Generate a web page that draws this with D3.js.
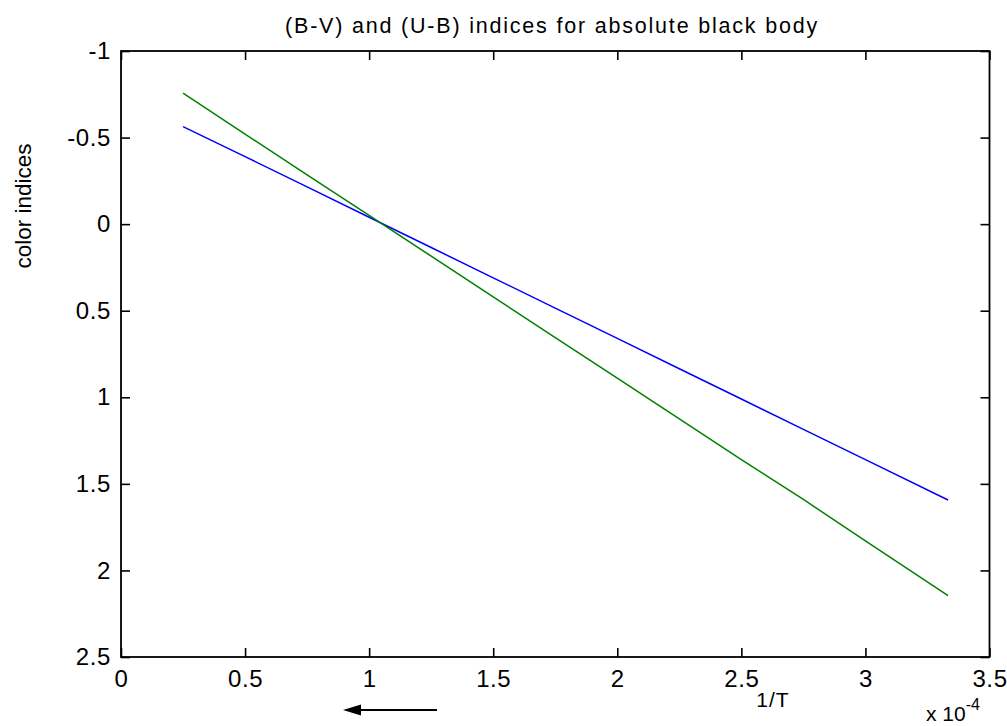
<!DOCTYPE html>
<html><head><meta charset="utf-8">
<script src="https://cdn.jsdelivr.net/npm/d3@7"></script>
<style>
html,body{margin:0;padding:0;background:#fff;}
svg{display:block;font-family:"Liberation Sans",Arial,sans-serif;}
</style></head>
<body>
<svg id="c" width="1007" height="726"></svg>
<script>
// 1/T in units of 1e-4 K^-1
const invT = [0.25, 0.5, 0.75, 1.0, 1.25, 1.5, 1.75, 2.0, 2.25, 2.5, 2.75, 3.0, 3.333];
// (B-V) index (blue)
const bvIndex = [-0.563, -0.39, -0.215, -0.04, 0.135, 0.31, 0.485, 0.66, 0.835, 1.01, 1.185, 1.36, 1.593];
// (U-B) index (green)
const ubIndex = [-0.756, -0.52, -0.285, -0.05, 0.185, 0.42, 0.655, 0.89, 1.125, 1.36, 1.59, 1.83, 2.145];
const xTicks = [0, 0.5, 1, 1.5, 2, 2.5, 3, 3.5];
const yTicks = [-1, -0.5, 0, 0.5, 1, 1.5, 2, 2.5];
const titleText = "(B-V) and (U-B) indices for absolute black body";
const yLabel = "color indices";
const xLabel = "1/T";

const svg = d3.select("#c");
const L = 121, R = 989.5, T = 51, B = 657;
const x = d3.scaleLinear().domain([0, 3.5]).range([L, R]);
const y = d3.scaleLinear().domain([-1, 2.5]).range([T, B]);
const fmt = d => String(d);
const tickFont = "24px";

function styleAxis(g){
  g.select(".domain").remove();
  g.selectAll(".tick line").attr("stroke","#000").attr("stroke-width",1.6);
  g.selectAll(".tick text").attr("fill","#000").style("font-size",tickFont).style("letter-spacing","0.6px").style("font-family","'Liberation Sans',Arial,sans-serif");
}

// bottom axis
svg.append("g").attr("transform",`translate(0,${B})`)
  .call(d3.axisBottom(x).tickValues(xTicks).tickFormat(fmt).tickSizeInner(-9).tickSizeOuter(0).tickPadding(13))
  .call(styleAxis)
  .call(g=>g.selectAll(".tick text").attr("dy","0.71em"));
// top axis (ticks only)
svg.append("g").attr("transform",`translate(0,${T})`)
  .call(d3.axisTop(x).tickValues(xTicks).tickFormat("").tickSizeInner(-9).tickSizeOuter(0))
  .call(styleAxis);
// left axis
svg.append("g").attr("transform",`translate(${L},0)`)
  .call(d3.axisLeft(y).tickValues(yTicks).tickFormat(fmt).tickSizeInner(-9).tickSizeOuter(0).tickPadding(10))
  .call(styleAxis);
// right axis (ticks only)
svg.append("g").attr("transform",`translate(${R},0)`)
  .call(d3.axisRight(y).tickValues(yTicks).tickFormat("").tickSizeInner(-9).tickSizeOuter(0))
  .call(styleAxis);

// frame
svg.append("rect").attr("x",L).attr("y",T).attr("width",R-L).attr("height",B-T)
  .attr("fill","none").attr("stroke","#000").attr("stroke-width",1.8);

// data lines
const line = d3.line().x(d=>x(d[0])).y(d=>y(d[1]));
svg.append("path").datum(invT.map((v,i)=>[v,bvIndex[i]]))
  .attr("d",line).attr("fill","none").attr("stroke","#0000ff").attr("stroke-width",1.5);
svg.append("path").datum(invT.map((v,i)=>[v,ubIndex[i]]))
  .attr("d",line).attr("fill","none").attr("stroke","#008000").attr("stroke-width",1.5);

// title
svg.append("text").attr("x",552).attr("y",33).attr("text-anchor","middle")
  .style("font-size","21.5px").style("letter-spacing","1.8px").attr("fill","#000").text(titleText);

// y label
svg.append("text").attr("transform","translate(31,206) rotate(-90)").attr("text-anchor","middle")
  .style("font-size","22.5px").attr("fill","#000").text(yLabel);

// x label
svg.append("text").attr("x",773).attr("y",707).attr("text-anchor","middle")
  .style("font-size","21px").style("letter-spacing","1px").attr("fill","#000").text(xLabel);

// exponent label
const ex = svg.append("text").attr("x",926).attr("y",721).style("font-size","21px").attr("fill","#000");
ex.append("tspan").text("x 10");
ex.append("tspan").attr("dy",-11).style("font-size","16px").text("-4");

// arrow
svg.append("line").attr("x1",356).attr("x2",437).attr("y1",710).attr("y2",710)
  .attr("stroke","#000").attr("stroke-width",1.8);
svg.append("path").attr("d","M343,710 L361,704.5 L361,715.5 Z").attr("fill","#000");
</script>
</body></html>
